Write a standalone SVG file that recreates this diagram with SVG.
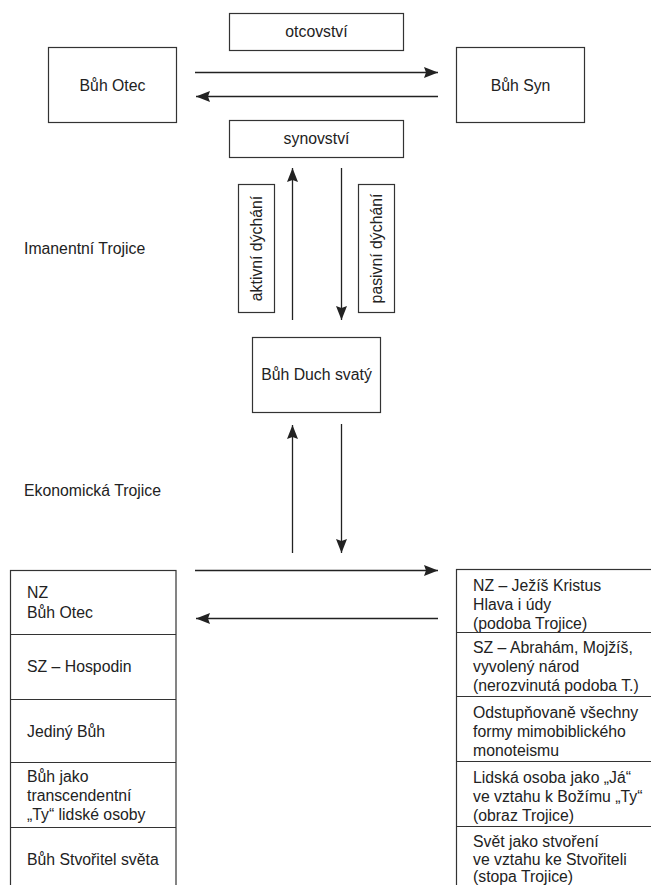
<svg xmlns="http://www.w3.org/2000/svg" width="651" height="885" viewBox="0 0 651 885">
<style>
  text { font-family: "Liberation Sans", Arial, sans-serif; font-size: 15.8px; fill: #222; }
  .box { fill: #fff; stroke: #333; stroke-width: 1.2; }
  .c { text-anchor: middle; }
  .conn line { stroke: #222; stroke-width: 1.3; fill: none; }
</style>
<defs>
  <marker id="ah" viewBox="0 0 14 11" refX="14" refY="5.5" markerWidth="14" markerHeight="11" markerUnits="userSpaceOnUse" orient="auto">
    <path d="M0,0 L14,5.5 L0,11 L2,5.5 z" fill="#222"/>
  </marker>
</defs>
<rect width="651" height="885" fill="#fff"/>

<g id="otcovstvi"><rect class="box" x="229.5" y="13.5" width="174" height="37"/><text class="c" x="316.5" y="37">otcovství</text></g>
<g id="buh-otec"><rect class="box" x="48.5" y="47.5" width="128" height="75"/><text class="c" x="112.5" y="91">Bůh Otec</text></g>
<g id="buh-syn"><rect class="box" x="456.5" y="47.5" width="128" height="75"/><text class="c" x="520.5" y="91">Bůh Syn</text></g>
<g id="synovstvi"><rect class="box" x="229.5" y="120.5" width="174" height="37"/><text class="c" x="316.5" y="144">synovství</text></g>
<g id="aktivni"><rect class="box" x="238.5" y="184.5" width="36" height="128"/><text class="c" transform="translate(256.5,248.5) rotate(-90)" x="0" y="5.5">aktivní dýchání</text></g>
<g id="pasivni"><rect class="box" x="358.5" y="184.5" width="36" height="128"/><text class="c" transform="translate(376.5,248.5) rotate(-90)" x="0" y="5.5">pasivní dýchání</text></g>
<g id="duch"><rect class="box" x="252.5" y="337.5" width="128" height="75"/><text class="c" x="316.5" y="380">Bůh Duch svatý</text></g>
<g id="imanentni"><text x="24" y="254">Imanentní Trojice</text></g>
<g id="ekonomicka"><text x="24" y="496">Ekonomická Trojice</text></g>

<g id="levy-sloupec">
  <rect class="box" x="10.5" y="570.5" width="165.5" height="330"/>
  <line x1="10.5" y1="634.5" x2="176" y2="634.5" stroke="#333" stroke-width="1.2"/>
  <line x1="10.5" y1="699.5" x2="176" y2="699.5" stroke="#333" stroke-width="1.2"/>
  <line x1="10.5" y1="762.5" x2="176" y2="762.5" stroke="#333" stroke-width="1.2"/>
  <line x1="10.5" y1="827.5" x2="176" y2="827.5" stroke="#333" stroke-width="1.2"/>
  <text x="27" y="598">NZ</text>
  <text x="27" y="618">Bůh Otec</text>
  <text x="27" y="672">SZ – Hospodin</text>
  <text x="27" y="737">Jediný Bůh</text>
  <text x="27" y="782">Bůh jako</text>
  <text x="27" y="801">transcendentní</text>
  <text x="27" y="820">„Ty“ lidské osoby</text>
  <text x="27" y="865">Bůh Stvořitel světa</text>
</g>

<g id="pravy-sloupec">
  <rect class="box" x="456.5" y="569.5" width="210" height="330"/>
  <line x1="456.5" y1="632.5" x2="651" y2="632.5" stroke="#333" stroke-width="1.2"/>
  <line x1="456.5" y1="696.5" x2="651" y2="696.5" stroke="#333" stroke-width="1.2"/>
  <line x1="456.5" y1="761.5" x2="651" y2="761.5" stroke="#333" stroke-width="1.2"/>
  <line x1="456.5" y1="826.5" x2="651" y2="826.5" stroke="#333" stroke-width="1.2"/>
  <text x="473" y="591">NZ – Ježíš Kristus</text>
  <text x="473" y="610">Hlava i údy</text>
  <text x="473" y="629">(podoba Trojice)</text>
  <text x="473" y="653">SZ – Abrahám, Mojžíš,</text>
  <text x="473" y="672">vyvolený národ</text>
  <text x="473" y="691">(nerozvinutá podoba T.)</text>
  <text x="473" y="718">Odstupňovaně všechny</text>
  <text x="473" y="737">formy mimobiblického</text>
  <text x="473" y="756">monoteismu</text>
  <text x="473" y="783">Lidská osoba jako „Já“</text>
  <text x="473" y="802">ve vztahu k Božímu „Ty“</text>
  <text x="473" y="821">(obraz Trojice)</text>
  <text x="473" y="847">Svět jako stvoření</text>
  <text x="473" y="865">ve vztahu ke Stvořiteli</text>
  <text x="473" y="882">(stopa Trojice)</text>
</g>

<g id="connectors" class="conn">
  <line x1="195" y1="72.5" x2="438" y2="72.5" marker-end="url(#ah)"/>
  <line x1="438" y1="96.5" x2="196" y2="96.5" marker-end="url(#ah)"/>
  <line x1="292.5" y1="320" x2="292.5" y2="168" marker-end="url(#ah)"/>
  <line x1="341.5" y1="168" x2="341.5" y2="320" marker-end="url(#ah)"/>
  <line x1="292.5" y1="553" x2="292.5" y2="425" marker-end="url(#ah)"/>
  <line x1="341.5" y1="424" x2="341.5" y2="553" marker-end="url(#ah)"/>
  <line x1="195" y1="570.5" x2="438" y2="570.5" marker-end="url(#ah)"/>
  <line x1="438" y1="618.5" x2="196" y2="618.5" marker-end="url(#ah)"/>
</g>
</svg>
